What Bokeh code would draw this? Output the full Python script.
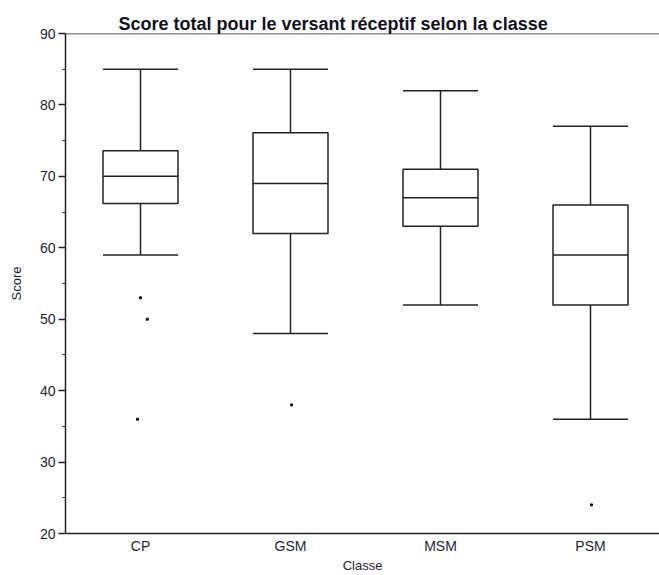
from bokeh.plotting import figure
from bokeh.models import Range1d, FixedTicker, Span, ColumnDataSource
from bokeh.embed import file_html
from bokeh.resources import INLINE

classes = ["CP", "GSM", "MSM", "PSM"]
q1 = [66.2, 62.0, 63.0, 52.0]
median = [70.0, 69.0, 67.0, 59.0]
q3 = [73.6, 76.1, 71.0, 66.0]
lower = [59.0, 48.0, 52.0, 36.0]
upper = [85.0, 85.0, 82.0, 77.0]
outlier_class = ["CP", "CP", "CP", "GSM", "PSM"]
outlier_values = [53.0, 50.0, 36.0, 38.0, 24.0]
outlier_jitter = [0.0, 0.045, -0.02, 0.007, 0.007]
y_ticks = [20, 30, 40, 50, 60, 70, 80, 90]
y_minor = [25, 35, 45, 55, 65, 75, 85]

xpos = [i + 0.5 for i in range(len(classes))]
box_w = 0.5

src = ColumnDataSource(dict(x=xpos, q1=q1, med=median, q3=q3, lo=lower, hi=upper,
                            xl=[x - box_w / 2 for x in xpos], xr=[x + box_w / 2 for x in xpos]))
osrc = ColumnDataSource(dict(
    x=[xpos[classes.index(c)] + j for c, j in zip(outlier_class, outlier_jitter)],
    y=outlier_values))

p = figure(width=659, height=575, output_backend="svg", toolbar_location=None,
           x_range=Range1d(0, 3.96), y_range=Range1d(20, 90),
           min_border_left=65, min_border_right=0, min_border_top=33, min_border_bottom=42)
p.title.text = "Score total pour le versant réceptif selon la classe"
p.title.text_font = "Liberation Sans"
p.title.text_font_size = "18px"
p.title.text_font_style = "bold"
p.title.text_color = "#111122"
p.title.align = "left"
p.title.offset = 53
p.title.standoff = 0

p.outline_line_color = None
p.xgrid.grid_line_color = None
p.ygrid.grid_line_color = None
p.background_fill_color = "white"
p.border_fill_color = "white"

lc = "#222222"
lw = 1.5
# stems
p.segment(x0="x", y0="q3", x1="x", y1="hi", source=src, line_color=lc, line_width=lw)
p.segment(x0="x", y0="lo", x1="x", y1="q1", source=src, line_color=lc, line_width=lw)
# caps
p.segment(x0="xl", y0="hi", x1="xr", y1="hi", source=src, line_color=lc, line_width=lw)
p.segment(x0="xl", y0="lo", x1="xr", y1="lo", source=src, line_color=lc, line_width=lw)
# boxes
p.vbar(x="x", width=box_w, bottom="q1", top="q3", source=src, fill_color="white",
       line_color=lc, line_width=lw)
p.segment(x0="xl", y0="med", x1="xr", y1="med", source=src, line_color=lc, line_width=lw)
# outliers
p.scatter(x="x", y="y", source=osrc, marker="square", size=2, fill_color="#111111",
          line_color="#111111")

p.add_layout(Span(location=90, dimension="width", line_color=lc, line_width=lw))

tc = "#1e1e38"
ya = p.yaxis[0]
ya.ticker = FixedTicker(ticks=y_ticks, minor_ticks=y_minor)
ya.axis_label = "Score"
ya.axis_label_text_font = "Liberation Sans"
ya.axis_label_text_font_size = "13px"
ya.axis_label_text_font_style = "normal"
ya.axis_label_text_color = tc
ya.axis_label_standoff = 13
ya.major_label_text_font = "Liberation Sans"
ya.major_label_text_font_size = "14px"
ya.major_label_text_color = tc
ya.major_label_standoff = 3
ya.major_tick_in = 0
ya.major_tick_out = 7
ya.minor_tick_in = 0
ya.minor_tick_out = 3
ya.axis_line_color = lc
ya.axis_line_width = lw
ya.major_tick_line_color = lc
ya.major_tick_line_width = lw
ya.minor_tick_line_color = lc
ya.minor_tick_line_width = 1

xa = p.xaxis[0]
xa.ticker = FixedTicker(ticks=xpos)
xa.major_label_overrides = {x: c for x, c in zip(xpos, classes)}
xa.axis_label = "Classe"
xa.axis_label_text_font = "Liberation Sans"
xa.axis_label_text_font_size = "13px"
xa.axis_label_text_font_style = "normal"
xa.axis_label_text_color = tc
xa.axis_label_standoff = 1
xa.major_label_text_font = "Liberation Sans"
xa.major_label_text_font_size = "14px"
xa.major_label_text_color = tc
xa.major_label_standoff = 4
xa.major_tick_in = 0
xa.major_tick_out = 0
xa.minor_tick_line_color = None
xa.major_tick_line_color = None
xa.axis_line_color = lc
xa.axis_line_width = lw

open("out.html", "w").write(file_html(p, INLINE))
